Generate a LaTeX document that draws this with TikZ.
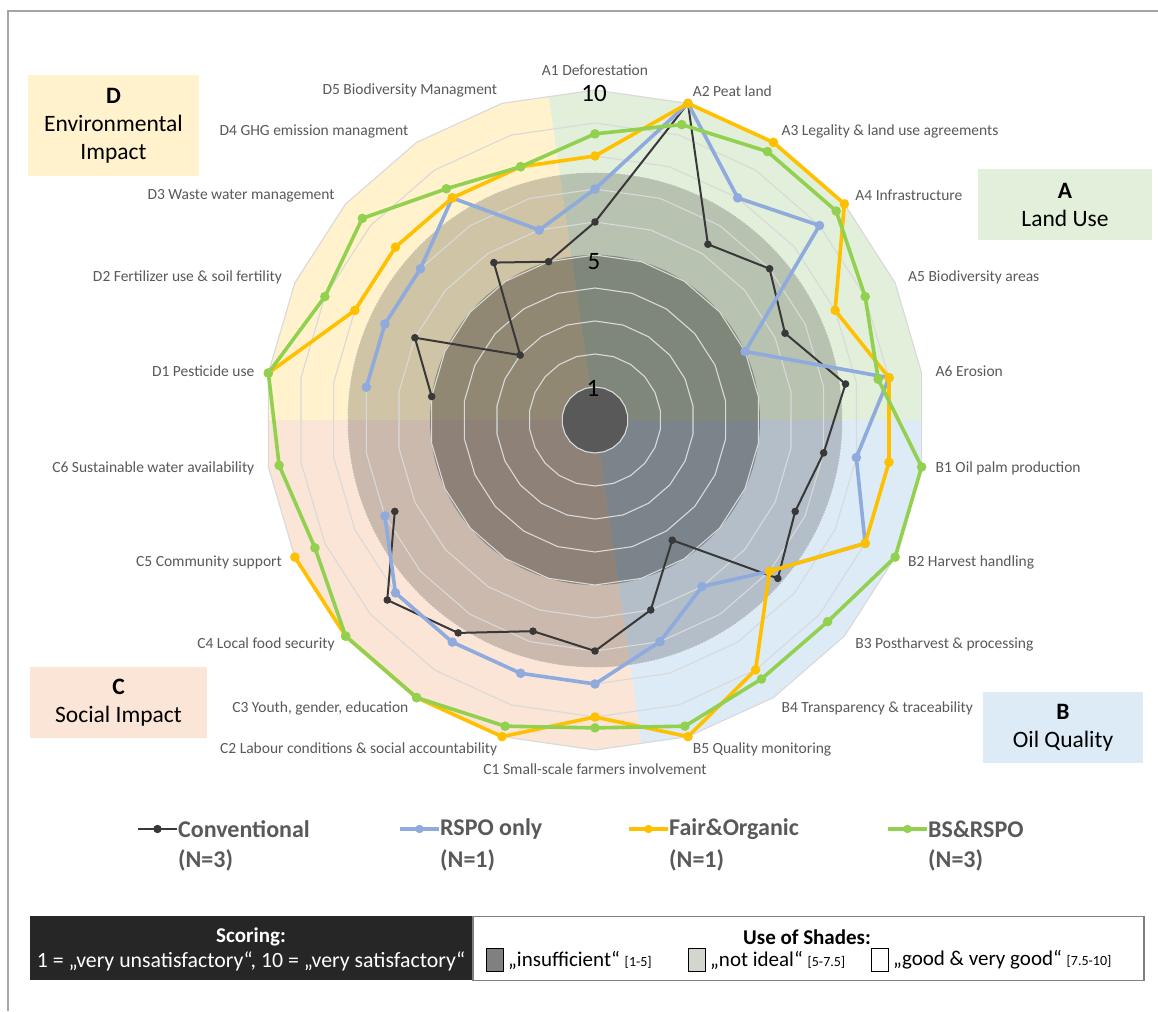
\documentclass[tikz,border=0pt]{standalone}
\usepackage{fontspec}
\setmainfont{Carlito}
\usetikzlibrary{positioning}
\definecolor{landuse}{HTML}{E2EFDA}
\definecolor{oilq}{HTML}{DDEBF7}
\definecolor{social}{HTML}{FBE5D6}
\definecolor{environ}{HTML}{FFF2CC}
\definecolor{convc}{HTML}{383838}
\definecolor{rspoc}{HTML}{8FAADC}
\definecolor{fairc}{HTML}{FFC000}
\definecolor{bsc}{HTML}{92D050}
\definecolor{labelgray}{HTML}{595959}
\definecolor{ringgray}{HTML}{D9D9D9}
\definecolor{centergray}{HTML}{595959}
\definecolor{scorebg}{HTML}{262626}
\definecolor{insuffgray}{HTML}{808080}
\definecolor{notidealgray}{HTML}{D3D6CE}
% scores A1..A6, B1..B5, C1..C6, D1..D5 (C6 not rated = 0)
\def\convscore{6,10,6.33,7,6.33,7.67,7,6.67,7.33,4.33,6,7,6.67,7.67,8.33,6.67,0,5,6,3,5.67,5}
\def\rsposcore{7,10,8,9,5,9,8,9,7,6,7,8,8,8,8,7,0,7,7,7,8,6}
\def\fairscore{8,10,10,10,8,9,9,9,7,9,10,9,10,10,10,10,0,10,8,8,8,8}
\def\bsscore{8.67,9.33,9.67,9.67,9,8.67,10,10,9.33,9.33,9.67,9.33,9.67,10,10,9.33,9.67,10,9,9.33,8.33,8}
\begin{document}
\begin{tikzpicture}[x=1pt,y=1pt,
  ring/.style={draw=ringgray,line width=1.1pt},
  axlabel/.style={text=labelgray,inner sep=1pt,font=\fontsize{15.5}{18}\selectfont},
  catbox/.style={fill=#1,align=center,inner sep=0pt,font=\fontsize{23.5}{28}\selectfont},
  ticklabel/.style={inner sep=0pt,font=\fontsize{25}{25}\selectfont},
  convline/.style={convc,line width=2pt,line join=round},
  seriesline/.style={#1,line width=3.6pt,line join=round},
  legtext/.style={text=labelgray,inner sep=0pt,font=\bfseries\fontsize{24}{24}\selectfont},
  swatch/.style={draw=black,line width=1pt,minimum width=17pt,minimum height=23pt,inner sep=0pt},
  boxtext/.style={inner sep=0pt,font=\fontsize{21}{24}\selectfont}]
\useasboundingbox (-595,-591) rectangle (563,420);
\fill[white] (-595,-591) rectangle (563,420);
\draw[gray!70,line width=1.5pt] (-587,-591) -- (-587,409) -- (563,409);

% category sectors
\foreach \first/\last/\col in {0/5/landuse,6/10/oilq,11/16/social,17/21/environ}
  \fill[\col] (0,0) -- ({90-(\first-0.5)*360/22}:326.6)
    foreach \i in {\first,...,\last} {-- ({90-\i*360/22}:330)}
    -- ({90-(\last+0.5)*360/22}:326.6) -- cycle;

% shades
\fill[black,opacity=0.19] (0,0) circle (247.5);
\fill[black,opacity=0.3] (0,0) circle (165);
\draw[white,opacity=0.5,line width=1pt,dash pattern=on 1.5pt off 1.5pt] (0,0) circle (247.5);
\fill[centergray] (0,0) circle (32.5);
\foreach \v in {1,...,10}
  \draw[ring] (90:33*\v) foreach \i in {1,...,21} {-- ({90-\i*360/22}:33*\v)} -- cycle;

\node[ticklabel] (tick10) at (-1,327) {10};
\node[ticklabel] (tick5) at (-1,158) {5};
\node[ticklabel] (tick1) at (-2,32) {1};

\foreach \i/\txt/\anc in {0/A1 Deforestation/south, 1/A2 Peat land/west,
    2/A3 Legality \& land use agreements/west, 3/A4 Infrastructure/west,
    4/A5 Biodiversity areas/west, 5/A6 Erosion/west, 6/B1 Oil palm production/west,
    7/B2 Harvest handling/west, 8/B3 Postharvest \& processing/west,
    9/B4 Transparency \& traceability/west, 10/B5 Quality monitoring/west,
    11/C1 Small-scale farmers involvement/north,
    12/C2 Labour conditions \& social accountability/east,
    13/{C3 Youth, gender, education}/east, 14/C4 Local food security/east,
    15/C5 Community support/east, 16/C6 Sustainable water availability/east,
    17/D1 Pesticide use/east, 18/D2 Fertilizer use \& soil fertility/east,
    19/D3 Waste water management/east, 20/D4 GHG emission managment/east,
    21/D5 Biodiversity Managment/east}
  \node[axlabel,anchor=\anc] (axis\i) at ({90-\i*360/22}:343) {\txt};

% data points
\foreach \i in {0,...,21}{
  \pgfmathsetmacro\ang{90-\i*360/22}
  \pgfmathsetmacro\rconv{33*{\convscore}[\i]}
  \pgfmathsetmacro\rrspo{33*{\rsposcore}[\i]}
  \pgfmathsetmacro\rfair{33*{\fairscore}[\i]}
  \pgfmathsetmacro\rbs{33*{\bsscore}[\i]}
  \coordinate (cv\i) at (\ang:\rconv);
  \coordinate (rs\i) at (\ang:\rrspo);
  \coordinate (fo\i) at (\ang:\rfair);
  \coordinate (bs\i) at (\ang:\rbs);
}
\draw[convline] (cv17) foreach \i in {18,19,20,21,0,1,2,3,4,5,6,7,8,9,10,11,12,13,14,15} {-- (cv\i)};
\foreach \i in {0,...,21} {\ifnum\i=16 \else \fill[convc] (cv\i) circle (3.8); \fi}
\draw[seriesline=rspoc] (rs17) foreach \i in {18,19,20,21,0,1,2,3,4,5,6,7,8,9,10,11,12,13,14,15} {-- (rs\i)};
\foreach \i in {0,...,21} {\ifnum\i=16 \else \fill[rspoc] (rs\i) circle (4.8); \fi}
\draw[seriesline=fairc] (fo17) foreach \i in {18,19,20,21,0,1,2,3,4,5,6,7,8,9,10,11,12,13,14,15} {-- (fo\i)};
\foreach \i in {0,...,21} {\ifnum\i=16 \else \fill[fairc] (fo\i) circle (4.8); \fi}
\draw[seriesline=bsc] (bs0) foreach \i in {1,...,21} {-- (bs\i)} -- cycle;
\foreach \i in {0,...,21} \fill[bsc] (bs\i) circle (4.8);

\node[catbox=environ,minimum width=171pt,minimum height=101pt] (envbox) at (-481.5,294.5) {\textbf{D}\\Environmental\\Impact};
\node[catbox=landuse,minimum width=174pt,minimum height=71pt] (landbox) at (470,215.5) {\textbf{A}\\Land Use};
\node[catbox=social,minimum width=177pt,minimum height=71pt] (socbox) at (-476.5,-282.5) {\textbf{C}\\Social Impact};
\node[catbox=oilq,minimum width=160pt,minimum height=71pt] (oilbox) at (468,-307.5) {\textbf{B}\\Oil Quality};

% legend
\foreach \nm/\x/\col/\lw/\txt/\n in {conv/-457/convc/2/Conventional/3, rspo/-195/rspoc/3.6/RSPO only/1,
    fair/34/fairc/3.6/Fair\&Organic/1, bs/293/bsc/3.6/BS\&RSPO/3}{
  \coordinate (\nm keyL) at (\x,-409);
  \coordinate (\nm keyR) at (\x+39,-409);
  \draw[\col,line width=\lw pt] (\nm keyL) -- (\nm keyR);
  \fill[\col] (\x+19.5,-409) circle (4.2);
  \node[legtext,anchor=west] (\nm name) at (\x+40,-409) {\txt};
  \node[legtext,anchor=west] (\nm count) at (\x+40,-440) {(N=\n)};
}

\node[fill=scorebg,minimum width=442pt,minimum height=64pt,inner sep=0pt,anchor=north west] (scorebox) at (-565,-496) {};
\node[draw=gray,line width=1.3pt,minimum width=671pt,minimum height=64pt,inner sep=0pt,anchor=north west] (shadebox) at (scorebox.north east) {};
\node[boxtext,text=white,font=\bfseries\fontsize{21}{24}\selectfont] (scoretitle) at (-344,-517) {Scoring:};
\node[boxtext,text=white,font=\fontsize{21.8}{24}\selectfont] (scorekey) at (-344,-541) {1 = „very unsatisfactory“, 10 = „very satisfactory“};
\node[boxtext,font=\bfseries\fontsize{21}{24}\selectfont] (shadetitle) at (212,-517) {Use of Shades:};
\node[swatch,fill=insuffgray] (swinsuff) at (-100,-540) {};
\node[boxtext,right=4pt of swinsuff] (txinsuff) {„insufficient“ {\fontsize{14}{14}\selectfont[1-5]}};
\node[swatch,fill=notidealgray] (swnotideal) at (102,-540) {};
\node[boxtext,right=4pt of swnotideal] (txnotideal) {„not ideal“ {\fontsize{14}{14}\selectfont[5-7.5]}};
\node[swatch,fill=white] (swgood) at (285,-540) {};
\node[boxtext,right=4pt of swgood] (txgood) {„good \& very good“ {\fontsize{14}{14}\selectfont[7.5-10]}};
\end{tikzpicture}
\end{document}
